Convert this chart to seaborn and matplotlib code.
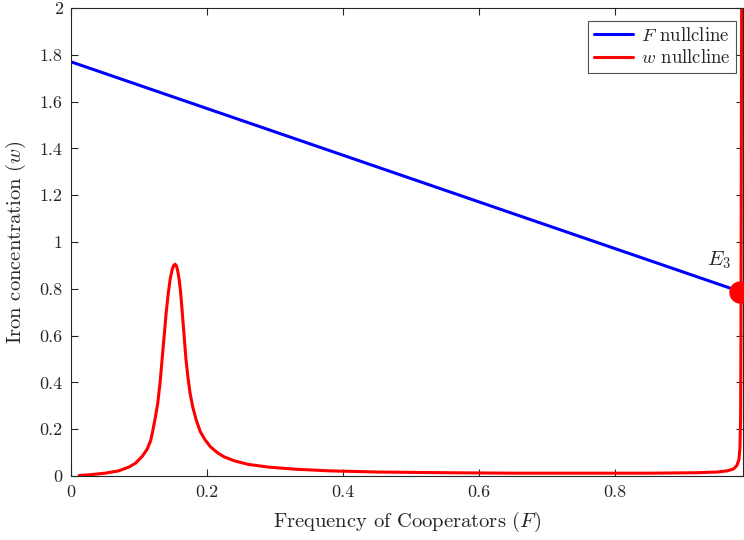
import matplotlib
matplotlib.use("Agg")
import matplotlib.pyplot as plt
import seaborn as sns
import pandas as pd

# F nullcline (straight line)
f_null_F = [0.0, 0.985]
f_null_w = [1.77, 0.787]

# w nullcline
w_null_F = [0.012, 0.03, 0.05, 0.07, 0.085, 0.095, 0.105, 0.112, 0.117, 0.12, 0.124,
            0.1275, 0.131, 0.134, 0.137, 0.14, 0.143, 0.146, 0.149, 0.151, 0.153,
            0.155, 0.157, 0.159, 0.161, 0.163, 0.166, 0.169, 0.172, 0.175, 0.179,
            0.184, 0.19, 0.197, 0.205, 0.215, 0.225, 0.24, 0.26, 0.29, 0.33, 0.38,
            0.45, 0.55, 0.65, 0.75, 0.85, 0.92, 0.95, 0.965, 0.974, 0.979, 0.982,
            0.9835, 0.9845, 0.985, 0.9855, 0.986]
w_null_w = [0.002, 0.006, 0.012, 0.022, 0.038, 0.055, 0.085, 0.115, 0.15, 0.19, 0.25,
            0.31, 0.40, 0.50, 0.60, 0.70, 0.78, 0.845, 0.885, 0.90, 0.905,
            0.898, 0.875, 0.84, 0.79, 0.72, 0.61, 0.50, 0.42, 0.355, 0.295,
            0.24, 0.19, 0.155, 0.125, 0.1, 0.082, 0.065, 0.05, 0.038, 0.029, 0.022,
            0.017, 0.014, 0.012, 0.012, 0.012, 0.014, 0.017, 0.022, 0.03, 0.045, 0.07,
            0.12, 0.25, 0.6, 1.3, 2.05]

# equilibrium E3
eq_F = [0.984]
eq_w = [0.787]
eq_label = r"$E_3$"

x_ticks = [0, 0.2, 0.4, 0.6, 0.8]
x_tick_labels = ["0", "0.2", "0.4", "0.6", "0.8"]
y_ticks = [0, 0.2, 0.4, 0.6, 0.8, 1.0, 1.2, 1.4, 1.6, 1.8, 2.0]
y_tick_labels = ["0", "0.2", "0.4", "0.6", "0.8", "1", "1.2", "1.4", "1.6", "1.8", "2"]

sns.set_style("ticks")
plt.rcParams["font.family"] = ["cmr10", "DejaVu Serif"]
plt.rcParams["mathtext.fontset"] = "cm"
plt.rcParams["axes.formatter.use_mathtext"] = True

fig = plt.figure(figsize=(7.44, 5.40), dpi=100)
ax = fig.add_axes([71/744, 1 - 476/540, (743 - 71)/744, (476 - 8)/540])

df_f = pd.DataFrame({"F": f_null_F, "w": f_null_w})
df_w = pd.DataFrame({"F": w_null_F, "w": w_null_w})

sns.lineplot(data=df_f, x="F", y="w", ax=ax, color=(0, 0, 1), lw=2.2,
             sort=False, label=r"$F$ nullcline")
sns.lineplot(data=df_w, x="F", y="w", ax=ax, color=(1, 0, 0), lw=2.2,
             sort=False, label=r"$w$ nullcline")
ax.scatter(eq_F, eq_w, s=260, color=(1, 0, 0), zorder=5, clip_on=False, linewidths=0)
ax.text(0.952, 0.92, eq_label, fontsize=15, ha="center", va="center")

ax.set_xlim(0, 0.988)
ax.set_ylim(0, 2)
ax.set_xticks(x_ticks)
ax.set_xticklabels(x_tick_labels)
ax.set_yticks(y_ticks)
ax.set_yticklabels(y_tick_labels)
ax.tick_params(direction="in", top=True, right=True, labelsize=13, length=5,
               color="#262626", width=0.8, pad=6)
for s in ax.spines.values():
    s.set_visible(True)
    s.set_color("#262626")
    s.set_linewidth(0.8)

ax.set_xlabel(r"Frequency of Cooperators ($F$)", fontsize=14.8, labelpad=7)
ax.set_ylabel(r"Iron concentration ($w$)", fontsize=14.8, labelpad=8)

leg = ax.legend(loc="upper right", fontsize=13.5, frameon=True, fancybox=False,
                edgecolor="#262626", handlelength=2.1, handletextpad=0.4,
                borderpad=0.3, labelspacing=0.25, borderaxespad=0,
                bbox_to_anchor=(0.9896, 0.972))
leg.get_frame().set_linewidth(0.8)

fig.savefig("out.png", dpi=100)
